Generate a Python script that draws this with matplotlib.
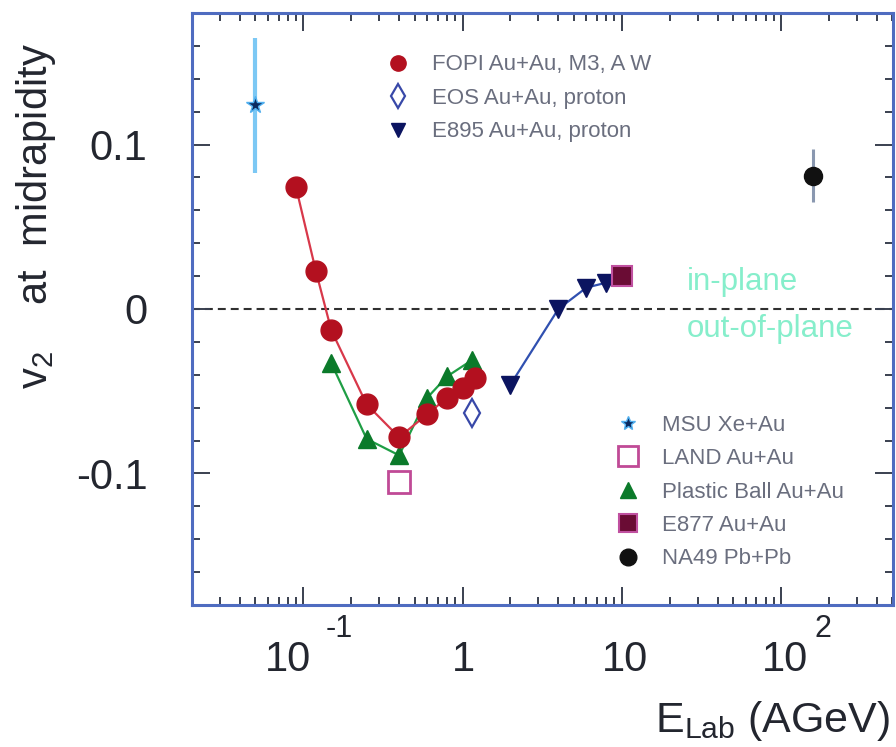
import matplotlib
matplotlib.use('Agg')
import matplotlib.pyplot as plt
from matplotlib.lines import Line2D
from matplotlib.ticker import MultipleLocator, NullFormatter, FixedLocator
from matplotlib.transforms import offset_copy

plt.rcParams['font.family'] = ['Liberation Sans', 'DejaVu Sans']
plt.rcParams['mathtext.fontset'] = 'custom'
plt.rcParams['mathtext.rm'] = 'Liberation Sans'
plt.rcParams['mathtext.it'] = 'Liberation Sans'

# values (E_lab in AGeV, v2 at midrapidity)
fopi_e = [0.09, 0.12, 0.15, 0.25, 0.4, 0.6, 0.8, 1.0, 1.2]
fopi_v2 = [0.074, 0.023, -0.013, -0.058, -0.078, -0.064, -0.054, -0.048, -0.042]
pball_e = [0.15, 0.25, 0.4, 0.6, 0.8, 1.15]
pball_v2 = [-0.033, -0.079, -0.089, -0.054, -0.041, -0.031]
e895_e = [2.0, 4.0, 6.0, 8.0]
e895_v2 = [-0.046, 0.0, 0.013, 0.016]
land_e = [0.4]
land_v2 = [-0.105]
eos_e = [1.15]
eos_v2 = [-0.063]
e877_e = [10.0]
e877_v2 = [0.020]
msu_e = [0.05]
msu_v2 = [0.124]
msu_err = [0.041]
na49_e = [158.0]
na49_v2 = [0.081]
na49_err = [0.016]

xtick_vals = [0.1, 1, 10, 100]
xtick_main = ['10', '1', '10', '10']
xtick_sup = ['-1', '', '', '2']
ytick_vals = [-0.1, 0, 0.1]
ytick_text = ['-0.1', '0', '0.1']

txt_col = '#23262f'
leg_col = '#6a6e7e'

fig = plt.figure(figsize=(8.96, 7.47), dpi=100)
ax = fig.add_axes([0.2143, 0.1901, 0.7824, 0.7925])

ax.axhline(0, color='#303030', lw=1.5, ls=(0, (3.8, 2.4)), zorder=1)

ax.errorbar(msu_e, msu_v2, yerr=msu_err, fmt='*', ms=13, mfc='#0a2a60', mec='#50b0f0',
            ecolor='#7cc8f4', elinewidth=3, capsize=0, zorder=3)
ax.errorbar(na49_e, na49_v2, yerr=na49_err, fmt='o', ms=13, mfc='#111111', mec='#111111',
            ecolor='#8a98b0', elinewidth=2.2, capsize=0, zorder=3)

ax.plot(pball_e, pball_v2, '-^', color='#1f9e45', mfc='#0b7a2a', mec='#0b7a2a', ms=13, lw=1.6, zorder=3)
ax.plot(fopi_e, fopi_v2, '-o', color='#d8384a', mfc='#b3101f', mec='#b3101f', ms=15, lw=1.6, zorder=4)
ax.plot(e895_e, e895_v2, '-v', color='#3050b0', mfc='#0b1460', mec='#0b1460', ms=13, lw=1.6, zorder=4)
ax.plot(land_e, land_v2, 's', mfc='white', mec='#c04a96', mew=2, ms=16, zorder=4)
ax.plot(eos_e, eos_v2, 'd', mfc='white', mec='#3848a8', mew=1.6, ms=14, zorder=4)
ax.plot(e877_e, e877_v2, 's', mfc='#6a0c34', mec='#c050a0', mew=1.5, ms=15, zorder=5)

ax.set_xscale('log')
ax.set_xlim(0.02, 506)
ax.set_ylim(-0.18, 0.18)

for s in ax.spines.values():
    s.set_color('#4f6cc0')
    s.set_linewidth(2.2)

ax.xaxis.set_major_locator(FixedLocator(xtick_vals))
ax.xaxis.set_major_formatter(NullFormatter())
ax.xaxis.set_minor_formatter(NullFormatter())
ax.set_yticks(ytick_vals)
ax.set_yticklabels(ytick_text)
ax.yaxis.set_minor_locator(MultipleLocator(0.02))
ax.tick_params(which='both', direction='in', top=True, right=True, color='#3a4050', width=1.4)
ax.tick_params(which='major', length=13)
ax.tick_params(which='minor', length=6)
ax.tick_params(axis='y', labelsize=30, pad=32, labelcolor=txt_col)

# x tick labels with raised exponents, baselines aligned
xtr = ax.get_xaxis_transform()
main_dx = [-15, 1, 3, 4]
sup_dx = [22, 0, 0, 34]
for v, m, s, dm, ds in zip(xtick_vals, xtick_main, xtick_sup, main_dx, sup_dx):
    ax.text(v, -0.1115, m, fontsize=30, color=txt_col, ha='center', va='baseline',
            transform=offset_copy(xtr, fig, x=dm, y=0, units='dots'))
    if s:
        ax.text(v, -0.1115, s, fontsize=22, color=txt_col, ha='left', va='baseline',
                transform=offset_copy(xtr, fig, x=ds, y=34, units='dots'))

fig.text(36 / 896, 1 - 43 / 747, 'v$_2$    at  midrapidity', rotation=90, fontsize=30,
         color=txt_col, ha='center', va='top')
fig.text(890 / 896, 1 - 732 / 747, r'E$_{\rm Lab}$ (AGeV)', fontsize=31, color=txt_col,
         ha='right', va='baseline')

ax.text(0.706, 0.532, 'in-plane', transform=ax.transAxes, fontsize=22.5, color='#86eecb',
        va='baseline')
ax.text(0.706, 0.453, 'out-of-plane', transform=ax.transAxes, fontsize=22.5, color='#86eecb',
        va='baseline')

h1 = [Line2D([], [], ls='none', marker='o', ms=11, mfc='#b3101f', mec='#b3101f'),
      Line2D([], [], ls='none', marker='d', ms=12, mfc='white', mec='#3848a8', mew=1.6),
      Line2D([], [], ls='none', marker='v', ms=10, mfc='#0b1460', mec='#0b1460')]
lab1 = ['FOPI Au+Au, M3, A W', 'EOS Au+Au, proton', 'E895 Au+Au, proton']
leg1 = ax.legend(h1, lab1, loc='upper left', bbox_to_anchor=(0.278, 0.930), frameon=False,
                 fontsize=16, labelspacing=0.56, handlelength=1.0, handletextpad=1.05,
                 borderpad=0, borderaxespad=0, labelcolor=leg_col)
ax.add_artist(leg1)

h2 = [Line2D([], [], ls='none', marker='*', ms=10, mfc='#0a2a60', mec='#50b0f0'),
      Line2D([], [], ls='none', marker='s', ms=14, mfc='white', mec='#c04a96', mew=2),
      Line2D([], [], ls='none', marker='^', ms=11, mfc='#0b7a2a', mec='#0b7a2a'),
      Line2D([], [], ls='none', marker='s', ms=13, mfc='#6a0c34', mec='#c050a0', mew=1.5),
      Line2D([], [], ls='none', marker='o', ms=12, mfc='#111111', mec='#111111')]
lab2 = ['MSU Xe+Au', 'LAND Au+Au', 'Plastic Ball Au+Au', 'E877 Au+Au', 'NA49 Pb+Pb']
ax.legend(h2, lab2, loc='upper left', bbox_to_anchor=(0.606, 0.3215), frameon=False,
          fontsize=16, labelspacing=0.56, handlelength=1.0, handletextpad=1.05,
          borderpad=0, borderaxespad=0, labelcolor=leg_col)

fig.savefig('out.png', dpi=100)
